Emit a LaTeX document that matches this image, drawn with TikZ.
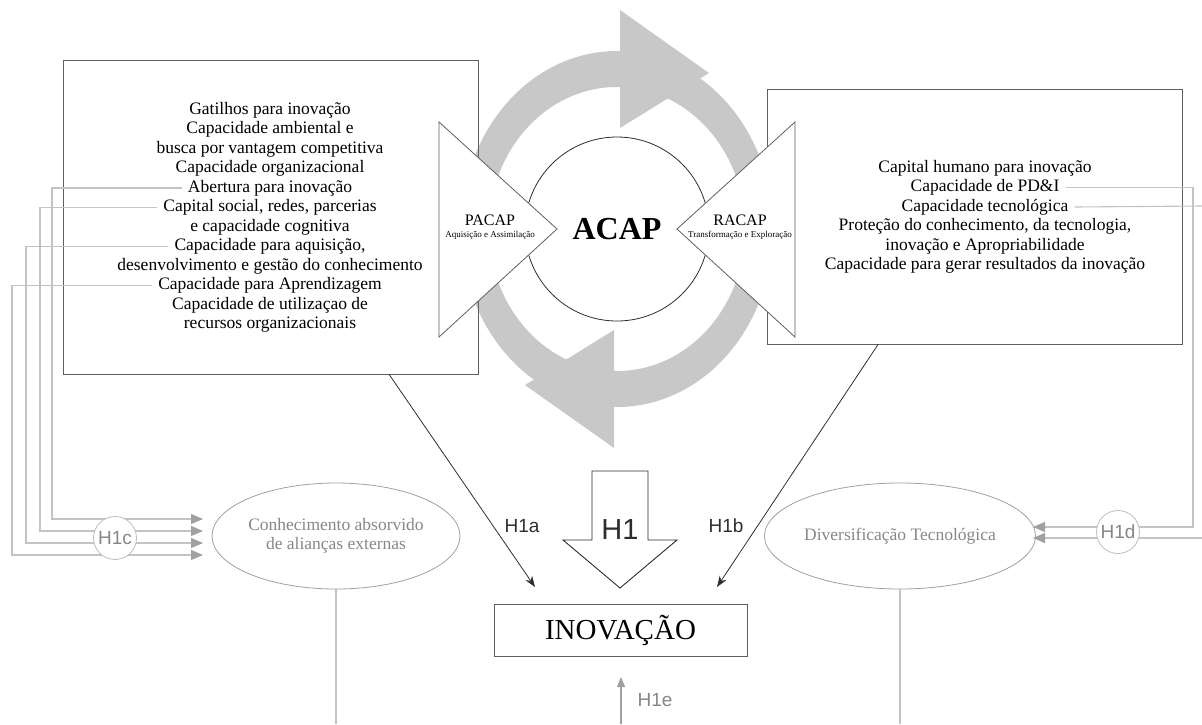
\documentclass[tikz,border=0pt]{standalone}
\usepackage{fontspec}
\setmainfont{Liberation Serif}
\setsansfont{Liberation Sans}
\usepackage{tikz}
\usetikzlibrary{shapes.geometric,arrows.meta,positioning,calc}
\definecolor{cRing}{RGB}{200,200,200}
\definecolor{cLine}{RGB}{195,195,195}
\definecolor{cTip}{RGB}{160,160,160}
\definecolor{cSoft}{RGB}{135,135,135}
\definecolor{cEdge}{RGB}{95,95,95}
\definecolor{cDark}{RGB}{45,45,45}
\tikzset{
  capbox/.style={rectangle,draw=cEdge,line width=0.9pt,minimum width=415pt,
                 minimum height=314pt},
  itemtxt/.style={inner xsep=6pt,inner ysep=0pt,
                  font=\fontsize{17.5}{19.5}\selectfont},
  wedge/.style={fill=white,draw=cEdge,line width=0.8pt},
  modtxt/.style={inner sep=0pt,font=\fontsize{16}{18}\selectfont},
  subtxt/.style={inner sep=0pt,font=\fontsize{9}{10}\selectfont},
  outcome/.style={ellipse,draw=cTip,line width=0.8pt,minimum width=248pt,
                  minimum height=106pt,inner sep=0pt,align=center,text=cSoft,
                  font=\fontsize{17.5}{19.5}\selectfont},
  hyp/.style={circle,fill=white,draw=cTip!70,line width=0.8pt,minimum size=43pt,
              inner sep=0pt,text=cSoft,font=\sffamily\fontsize{19}{20}\selectfont},
  hlabel/.style={inner sep=0pt,text=cDark,font=\sffamily\fontsize{19}{20}\selectfont},
  greyarr/.style={draw=cLine,line width=1.1pt,
                  -{Triangle[length=12pt,width=10pt,color=cTip]}},
  greyln/.style={draw=cLine,line width=1.1pt},
  blkarr/.style={draw=cDark,line width=0.8pt,-{Stealth[length=11pt,width=8pt]}}
}

\begin{document}
\begin{tikzpicture}[x=1pt,y=-1pt]
  \useasboundingbox (0,0) rectangle (1202,724);

  % Cycle ring with two heads
  \coordinate (mid) at (617,229);
  \fill[cRing,even odd rule] (mid) ellipse [x radius=156pt,y radius=178pt]
                             (mid) ellipse [x radius=128pt,y radius=142pt];
  \fill[cRing] (620,10) -- (709,73) -- (620,128) -- cycle;
  \fill[cRing] (614,448) -- (525,385) -- (614,330) -- cycle;

  % Capability boxes
  \node[capbox] (lbox) at (270.5,217) {};
  \node[capbox,minimum height=255pt] (rbox) at (974.5,216.5) {};

  \foreach \t [count=\i] in {Gatilhos para inovação, Capacidade ambiental e,
      busca por vantagem competitiva, Capacidade organizacional,
      Abertura para inovação, {Capital social, redes, parcerias},
      e capacidade cognitiva, {Capacidade para aquisição,},
      desenvolvimento e gestão do conhecimento, Capacidade para Aprendizagem,
      Capacidade de utilizaçao de, recursos organizacionais}
    \node[itemtxt] (l\i) at (270,{90.5+19.5*\i}) {\t};

  \foreach \t [count=\i] in {Capital humano para inovação, Capacidade de PD\&I,
      Capacidade tecnológica, {Proteção do conhecimento, da tecnologia,},
      inovação e Apropriabilidade, Capacidade para gerar resultados da inovação}
    \node[itemtxt] (r\i) at (985,{148.5+19.5*\i}) {\t};

  % ACAP core
  \node[circle,draw=cDark,fill=white,line width=0.8pt,minimum size=184pt,
        font=\bfseries\fontsize{32}{34}\selectfont] (acap) at (mid) {ACAP};
  \draw[wedge] (439,122) -- (557,229) -- (439,337) -- cycle;
  \draw[wedge] (795,122) -- (677,229) -- (795,337) -- cycle;
  \node[modtxt] (pacap) at (490,220) {PACAP};
  \node[subtxt] (pacapsub) at (490,235) {Aquisição e Assimilação};
  \node[modtxt] (racap) at (740,220) {RACAP};
  \node[subtxt] (racapsub) at (740,235) {Transformação e Exploração};

  % Outcomes
  \node[outcome] (know) at (336,536) {Conhecimento absorvido\\de alianças externas};
  \node[outcome] (div) at (900,536) {Diversificação Tecnológica};
  \node[rectangle,draw=cEdge,line width=0.9pt,minimum width=253pt,minimum height=52pt,
        font=\fontsize{29}{31}\selectfont] (inov) at (620.5,630) {INOVAÇÃO};

  % H1 block arrow
  \draw[fill=white,draw=cDark,line width=0.9pt] (592,471) -- (648,471) -- (648,540)
      -- (677,540) -- (620,588) -- (563,540) -- (592,540) -- cycle;
  \node[inner sep=0pt,text=cDark,font=\sffamily\fontsize{29}{31}\selectfont] (h1) at (620,530) {H1};

  % H1a / H1b
  \coordinate (tipa) at (535,587);
  \coordinate (tipb) at (717,587);
  \draw[blkarr] (lbox.-53) -- (tipa);
  \draw[blkarr] (rbox.-127.4) -- (tipb);
  \node[hlabel] (h1a) at (522,526) {H1a};
  \node[hlabel] (h1b) at (726,526) {H1b};

  % H1c links
  \coordinate (c1) at (203,519);
  \coordinate (c2) at (203,531);
  \coordinate (c3) at (203,543);
  \coordinate (c4) at (203,555);
  \draw[greyarr] (l5.west) -| (52,519) -- (c1);
  \draw[greyarr] (l6.west) -| (40,531) -- (c2);
  \draw[greyarr] (l8.west) -| (26,543) -- (c3);
  \draw[greyarr] (l10.west) -| (12,555) -- (c4);
  \node[hyp] (h1c) at (115,538) {H1c};

  % H1d links
  \coordinate (d1) at (1033,527);
  \coordinate (d2) at (1033,538);
  \coordinate (dout) at (1202,206);
  \coordinate (din) at (1202,538);
  \draw[greyarr] (r2.east) -| (1193,527) -- (d1);
  \draw[greyln] (r3.east) -- (dout);
  \draw[greyarr] (din) -- (d2);
  \node[hyp] (h1d) at (1118,532) {H1d};

  % H1e and drops
  \coordinate (ebase) at (621,724);
  \coordinate (etip) at (621,677);
  \draw[draw=cTip,line width=1.1pt,-{Triangle[length=10pt,width=8pt,color=cTip]}] (ebase) -- (etip);
  \node[hlabel,text=cSoft] (h1e) at (655,700) {H1e};
  \draw[greyln] (know.south) -- (know.south |- ebase);
  \draw[greyln] (div.south) -- (div.south |- ebase);

\end{tikzpicture}
\end{document}
